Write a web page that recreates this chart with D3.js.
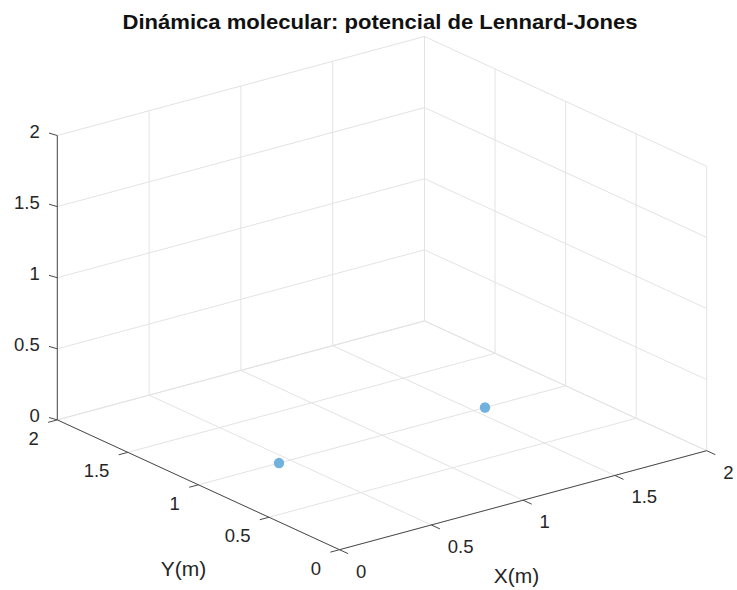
<!DOCTYPE html>
<html>
<head>
<meta charset="utf-8">
<script src="https://cdn.jsdelivr.net/npm/d3@7"></script>
<style>
  html, body { margin: 0; padding: 0; background: #fff; }
  svg text { font-family: "Liberation Sans", Arial, Helvetica, sans-serif; }
  .grid { stroke: #e3e3e3; stroke-width: 1; fill: none; }
  .axis { stroke: #4a4a4a; stroke-width: 1; fill: none; }
  .tick { stroke: #4a4a4a; stroke-width: 1; }
  .tlbl { fill: #262626; font-size: 18.5px; }
  .albl { fill: #262626; font-size: 21px; }
</style>
</head>
<body>
<div id="chart"></div>
<script>
// MATLAB-style scatter3, view(-37.5, 30): two particles at the LJ equilibrium distance
var TITLE = "Dinámica molecular: potencial de Lennard-Jones";
var xTicks = [0, 0.5, 1, 1.5, 2];
var yTicks = [0, 0.5, 1, 1.5, 2];
var zTicks = [0, 0.5, 1, 1.5, 2];
var xTickLabels = ["0", "0.5", "1", "1.5", "2"];
var yTickLabels = ["0", "0.5", "1", "1.5", "2"];
var zTickLabels = ["0", "0.5", "1", "1.5", "2"];
var particleX = [0.439, 1.561];
var particleY = [1, 1];
var particleZ = [0, 0];

(function () {
  "use strict";
  var W = 737, H = 590;
  var svg = d3.select("#chart").append("svg").attr("width", W).attr("height", H);

  // data -> fraction of the box along each axis
  var sx = d3.scaleLinear().domain([0, 2]).range([0, 1]);
  var sy = d3.scaleLinear().domain([0, 2]).range([0, 1]);
  var sz = d3.scaleLinear().domain([0, 2]).range([0, 1]);

  // screen geometry of the box (origin corner + full-length edge vectors)
  var O = [339.5, 549.7];
  var EX = [367.2, -99.0], EY = [-282.2, -129.8], EZ = [0, -284.4];

  function P(x, y, z) {
    var a = sx(x), b = sy(y), c = sz(z);
    return [O[0] + a * EX[0] + b * EY[0] + c * EZ[0],
            O[1] + a * EX[1] + b * EY[1] + c * EZ[1]];
  }
  function seg(g, cls, p, q) {
    g.append("line").attr("class", cls)
      .attr("x1", p[0]).attr("y1", p[1]).attr("x2", q[0]).attr("y2", q[1]);
  }

  var X0 = xTicks[0], X1 = xTicks[xTicks.length - 1];
  var Y0 = yTicks[0], Y1 = yTicks[yTicks.length - 1];
  var Z0 = zTicks[0], Z1 = zTicks[zTicks.length - 1];

  // ---- grid on the three back planes ----
  var grid = svg.append("g");
  xTicks.forEach(function (t) {
    seg(grid, "grid", P(t, Y0, Z0), P(t, Y1, Z0));   // floor
    seg(grid, "grid", P(t, Y1, Z0), P(t, Y1, Z1));   // back wall y = max
  });
  yTicks.forEach(function (t) {
    seg(grid, "grid", P(X0, t, Z0), P(X1, t, Z0));   // floor
    seg(grid, "grid", P(X1, t, Z0), P(X1, t, Z1));   // back wall x = max
  });
  zTicks.forEach(function (t) {
    seg(grid, "grid", P(X0, Y1, t), P(X1, Y1, t));
    seg(grid, "grid", P(X1, Y0, t), P(X1, Y1, t));
  });

  // ---- axes ----
  var ax = svg.append("g");
  seg(ax, "axis", P(X0, Y0, Z0), P(X1, Y0, Z0));
  seg(ax, "axis", P(X0, Y0, Z0), P(X0, Y1, Z0));
  seg(ax, "axis", P(X0, Y1, Z0), P(X0, Y1, Z1));

  var TK = 9.5;
  xTicks.forEach(function (t, i) {
    var p = P(t, Y0, Z0);
    seg(ax, "tick", p, [p[0] + 0.908 * TK, p[1] + 0.418 * TK]);
    ax.append("text").attr("class", "tlbl").attr("x", p[0] + 16.5).attr("y", p[1] + 21.5)
      .attr("dominant-baseline", "central").attr("text-anchor", "start").text(xTickLabels[i]);
  });
  yTicks.forEach(function (t, i) {
    var p = P(X0, t, Z0);
    seg(ax, "tick", p, [p[0] - 0.966 * TK, p[1] + 0.26 * TK]);
    ax.append("text").attr("class", "tlbl").attr("x", p[0] - 18.5).attr("y", p[1] + 18.5)
      .attr("dominant-baseline", "central").attr("text-anchor", "end").text(yTickLabels[i]);
  });
  zTicks.forEach(function (t, i) {
    var p = P(X0, Y1, t);
    seg(ax, "tick", p, [p[0] - 8.3, p[1] - 2.4]);
    ax.append("text").attr("class", "tlbl").attr("x", p[0] - 17.5).attr("y", p[1] - 4.5)
      .attr("dominant-baseline", "central").attr("text-anchor", "end").text(zTickLabels[i]);
  });

  // axis labels, placed off the middle of each axis
  var mx = P((X0 + X1) / 2, Y0, Z0), my = P(X0, (Y0 + Y1) / 2, Z0);
  svg.append("text").attr("class", "albl").attr("x", mx[0] - 6.5).attr("y", mx[1] + 75)
    .attr("dominant-baseline", "central").attr("text-anchor", "middle").text("X(m)");
  svg.append("text").attr("class", "albl").attr("x", my[0] - 15).attr("y", my[1] + 83.4)
    .attr("dominant-baseline", "central").attr("text-anchor", "middle").text("Y(m)");

  // ---- particles ----
  var pts = particleX.map(function (x, i) { return P(x, particleY[i], particleZ[i]); });
  svg.append("g").selectAll("circle").data(pts).join("circle")
    .attr("cx", function (d) { return d[0]; })
    .attr("cy", function (d) { return d[1]; })
    .attr("r", 5.2)
    .attr("fill", "#70b1de");

  // ---- title ----
  svg.append("text").attr("x", 380).attr("y", 28.5).attr("text-anchor", "middle")
    .attr("font-weight", "bold").attr("font-size", 21).attr("fill", "#111")
    .attr("textLength", 515).attr("lengthAdjust", "spacingAndGlyphs")
    .text(TITLE);
})();
</script>
</body>
</html>
